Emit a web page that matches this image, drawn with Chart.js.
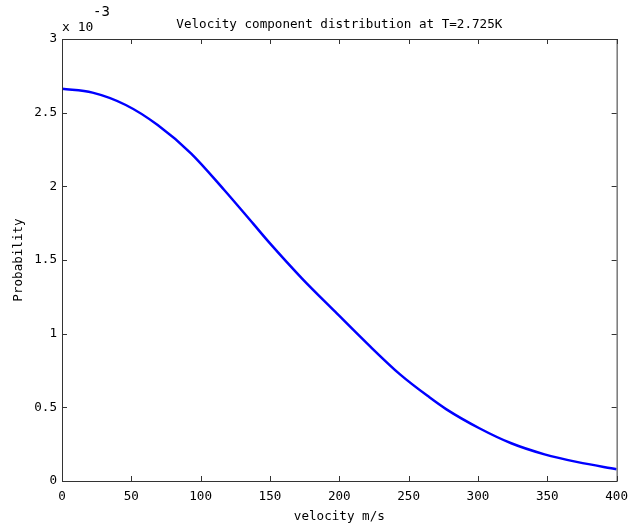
<!DOCTYPE html>
<html>
<head>
<meta charset="utf-8">
<script src="https://cdn.jsdelivr.net/npm/chart.js@4/dist/chart.umd.min.js"></script>
<style>
  html, body { margin: 0; padding: 0; background: #fff; }
  #wrap { width: 636px; height: 527px; }
</style>
</head>
<body>
<div id="wrap"><canvas id="velChart" width="636" height="527"></canvas></div>
<script>
/* ===== DATA (probability in units of 10^-3) ===== */
const velocities = [0, 22, 46, 69, 93, 117, 138, 150, 173, 197, 220, 244, 265, 277, 301, 324, 348, 372, 400];
const probability = [2.662, 2.636, 2.552, 2.416, 2.224, 1.975, 1.745, 1.613, 1.376, 1.149, 0.934, 0.722, 0.568, 0.488, 0.358, 0.256, 0.181, 0.128, 0.08];

const xTicks = [0, 50, 100, 150, 200, 250, 300, 350, 400];
const yTicks = [0, 0.5, 1, 1.5, 2, 2.5, 3];

const titleText = "Velocity component distribution at T=2.725K";
const xLabel = "velocity m/s";
const yLabel = "Probability";

const FONT = "'DejaVu Sans Mono', monospace";

/* ===== box, inward ticks and texts (matlab look) ===== */
const matlabFrame = {
  id: "matlabFrame",
  afterDraw(chart) {
    const ctx = chart.ctx;
    const a = chart.chartArea;
    const xs = chart.scales.x, ys = chart.scales.y;

    ctx.save();
    ctx.strokeStyle = "#333";
    ctx.lineWidth = 1;
    ctx.strokeRect(a.left + 0.5, a.top + 0.5, a.right - a.left, a.bottom - a.top);

    // ticks pointing in
    ctx.beginPath();
    xTicks.forEach(v => {
      const px = Math.round(xs.getPixelForValue(v)) + 0.5;
      ctx.moveTo(px, a.bottom); ctx.lineTo(px, a.bottom - 5);
      ctx.moveTo(px, a.top); ctx.lineTo(px, a.top + 5);
    });
    yTicks.forEach(v => {
      const py = Math.round(ys.getPixelForValue(v)) + 0.5;
      ctx.moveTo(a.left, py); ctx.lineTo(a.left + 5, py);
      ctx.moveTo(a.right, py); ctx.lineTo(a.right - 5, py);
    });
    ctx.stroke();

    // texts
    ctx.fillStyle = "#000";
    ctx.font = "12.6px " + FONT;
    ctx.textAlign = "center";
    ctx.textBaseline = "middle";
    const cx = (a.left + a.right) / 2;
    ctx.fillText(titleText, cx, 25);
    ctx.fillText(xLabel, cx, 517);

    ctx.save();
    ctx.translate(19, (a.top + a.bottom) / 2);
    ctx.rotate(-Math.PI / 2);
    ctx.fillText(yLabel, 0, 0);
    ctx.restore();

    // x 10^-3
    ctx.textAlign = "left";
    ctx.font = "13px " + FONT;
    ctx.fillText("x 10", 62, 28);
    ctx.font = "14px " + FONT;
    ctx.fillText("-3", 93, 12);
    ctx.restore();
  }
};

/* ===== CHART ===== */
const ctx = document.getElementById("velChart").getContext("2d");

new Chart(ctx, {
  type: "line",
  data: {
    datasets: [{
      label: "Probability",
      data: velocities.map((v, i) => ({ x: v, y: probability[i] })),
      borderColor: "#0000ff",
      borderWidth: 2.5,
      pointRadius: 0,
      fill: false,
      cubicInterpolationMode: "monotone"
    }]
  },
  options: {
    responsive: false,
    animation: false,
    layout: { padding: { left: 0, right: 9, top: 39, bottom: 0 } },
    plugins: {
      legend: { display: false },
      title: { display: false },
      tooltip: { enabled: false }
    },
    scales: {
      x: {
        type: "linear",
        min: 0,
        max: 400,
        afterBuildTicks: s => { s.ticks = xTicks.map(v => ({ value: v })); },
        afterFit: s => { s.height = 46; },
        grid: { display: false, drawTicks: false },
        border: { display: false },
        ticks: {
          color: "#000",
          padding: 8,
          font: { family: FONT, size: 12.6 },
          maxRotation: 0,
          callback: v => String(v)
        }
      },
      y: {
        type: "linear",
        min: 0,
        max: 3,
        afterBuildTicks: s => { s.ticks = yTicks.map(v => ({ value: v })); },
        afterFit: s => { s.width = 62; },
        grid: { display: false, drawTicks: false },
        border: { display: false },
        ticks: {
          color: "#000",
          padding: 5,
          font: { family: FONT, size: 12.6 },
          callback: v => String(v)
        }
      }
    }
  },
  plugins: [matlabFrame]
});
</script>
</body>
</html>
